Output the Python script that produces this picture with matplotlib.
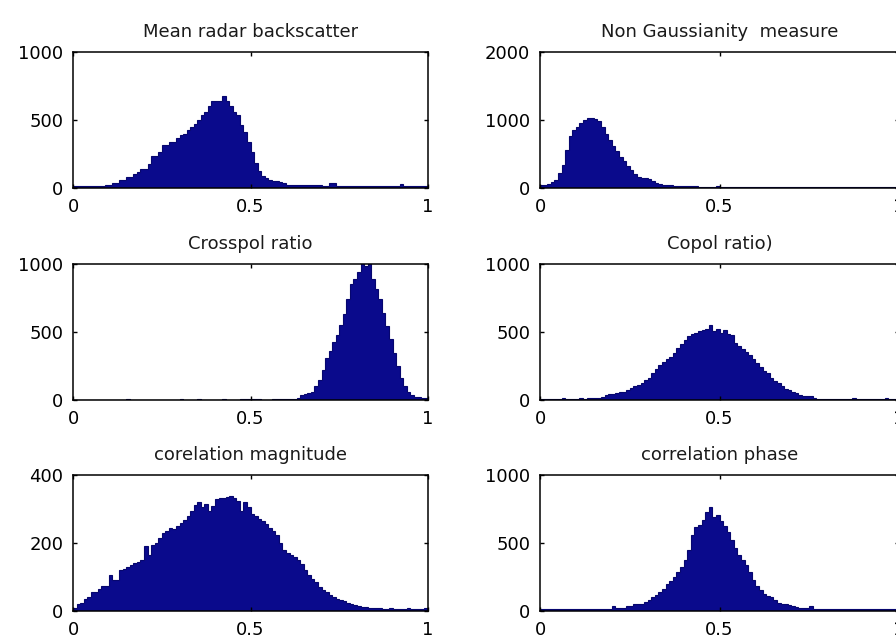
import numpy as np
import matplotlib
matplotlib.use("Agg")
import matplotlib.pyplot as plt

plt.rcParams['font.family'] = ['DejaVu Sans']

# ---- data: 100-bin histogram counts over [0, 1] ----
bin_edges = np.linspace(0, 1, 101)

mean_backscatter = [17, 17, 17, 17, 17, 17, 17, 17, 18, 20,
                    25, 37, 37, 62, 62, 80, 80, 100, 117, 137,
                    137, 175, 237, 237, 267, 317, 315, 337, 340, 367,
                    387, 400, 425, 450, 470, 500, 540, 562, 600, 637,
                    637, 640, 675, 642, 600, 560, 537, 462, 412, 337,
                    262, 187, 125, 90, 75, 62, 55, 50, 42, 37,
                    25, 25, 25, 25, 25, 25, 25, 25, 25, 25,
                    17, 17, 35, 35, 17, 17, 17, 17, 17, 17,
                    17, 17, 17, 17, 17, 17, 17, 17, 17, 17,
                    17, 17, 30, 17, 17, 17, 17, 17, 17, 17]

non_gaussianity = [45, 50, 60, 85, 125, 220, 340, 560, 760, 850,
                   900, 950, 1000, 1025, 1025, 1020, 980, 900, 800, 710,
                   620, 540, 460, 390, 330, 270, 200, 160, 150, 150,
                   130, 100, 80, 60, 48, 42, 38, 34, 32, 30,
                   28, 26, 25, 24, 22, 20, 18, 16, 14, 25,
                   10, 10, 18, 8, 8, 8, 18, 8, 8, 18,
                   8, 8, 8, 15, 8, 8, 8, 8, 8, 8,
                   15, 8, 8, 15, 8, 8, 8, 8, 8, 8,
                   15, 8, 15, 8, 8, 8, 8, 8, 15, 8,
                   8, 8, 8, 8, 8, 8, 8, 8, 8, 8]

crosspol = [0, 0, 0, 0, 0, 0, 0, 0, 0, 0,
            0, 0, 0, 0, 0, 8, 0, 0, 0, 0,
            0, 0, 0, 0, 0, 0, 0, 0, 0, 0,
            8, 0, 0, 0, 0, 8, 0, 0, 0, 0,
            0, 0, 8, 0, 0, 0, 0, 5, 8, 10,
            8, 8, 5, 0, 0, 0, 5, 5, 6, 6,
            8, 8, 10, 15, 37, 45, 55, 62, 100, 150,
            220, 310, 360, 430, 480, 555, 630, 740, 850, 890,
            940, 1005, 985, 1005, 890, 815, 740, 640, 545, 445,
            345, 250, 160, 100, 62, 40, 25, 20, 15, 12]

copol = [10, 8, 6, 10, 10, 10, 12, 10, 10, 10,
         10, 12, 10, 12, 12, 14, 15, 20, 38, 45,
         45, 55, 62, 62, 72, 85, 100, 112, 125, 145,
         165, 195, 225, 255, 280, 300, 318, 345, 380, 410,
         440, 470, 485, 495, 510, 512, 525, 555, 505, 525,
         490, 512, 488, 475, 420, 395, 378, 350, 330, 300,
         275, 240, 212, 200, 165, 140, 125, 100, 82, 70,
         58, 48, 40, 32, 30, 28, 12, 10, 10, 10,
         10, 10, 10, 8, 10, 10, 10, 12, 10, 8,
         10, 10, 6, 10, 10, 10, 12, 10, 8, 10]

corr_magnitude = [10, 20, 25, 35, 40, 55, 55, 65, 75, 75,
                  105, 90, 90, 120, 125, 130, 135, 140, 145, 150,
                  190, 165, 195, 200, 215, 228, 235, 245, 240, 250,
                  258, 268, 280, 295, 312, 322, 305, 315, 295, 310,
                  330, 332, 332, 335, 338, 332, 325, 295, 322, 305,
                  285, 278, 270, 265, 255, 245, 235, 225, 200, 178,
                  170, 165, 158, 150, 138, 120, 105, 95, 85, 70,
                  62, 55, 47, 42, 36, 32, 28, 23, 20, 17,
                  15, 12, 11, 10, 9, 8, 8, 6, 7, 8,
                  6, 5, 7, 6, 8, 6, 5, 7, 6, 8]

corr_phase = [12, 12, 12, 12, 12, 12, 12, 12, 12, 12,
              12, 12, 12, 12, 12, 12, 12, 12, 12, 12,
              38, 25, 25, 25, 38, 38, 50, 50, 55, 68,
              80, 100, 120, 140, 165, 200, 222, 250, 288, 325,
              375, 450, 560, 620, 635, 670, 730, 762, 690, 705,
              665, 625, 580, 525, 465, 415, 375, 335, 290, 230,
              185, 155, 125, 112, 100, 80, 62, 55, 50, 42,
              38, 30, 25, 25, 20, 38, 12, 12, 12, 12,
              12, 12, 12, 12, 12, 12, 12, 12, 12, 12,
              12, 12, 12, 12, 12, 12, 12, 12, 12, 12]

titles = ["Mean radar backscatter", "Non Gaussianity  measure",
          "Crosspol ratio", "Copol ratio)",
          "corelation magnitude", "correlation phase"]
series = [mean_backscatter, non_gaussianity, crosspol, copol,
          corr_magnitude, corr_phase]
ymax = [1000, 2000, 1000, 1000, 400, 1000]
yticks = [[0, 500, 1000], [0, 1000, 2000], [0, 500, 1000], [0, 500, 1000],
          [0, 200, 400], [0, 500, 1000]]
xticks = [0, 0.5, 1]
xticklabels = ["0", "0.5", "1"]

# ---- layout (pixels) ----
W, H = 896, 638
cols = [(73, 355), (540, 359)]
rows = [(52, 188), (264, 400), (475, 611)]

fig = plt.figure(figsize=(W / 100, H / 100), dpi=100)
fig.patch.set_facecolor('white')

navy = '#0A0A8C'
centers = (bin_edges[:-1] + bin_edges[1:]) / 2

for k in range(6):
    r, c = divmod(k, 2)
    x0, w = cols[c]
    top, bot = rows[r]
    ax = fig.add_axes([x0 / W, (H - bot) / H, w / W, (bot - top) / H])
    ax.hist(centers, bins=bin_edges, weights=series[k], histtype='stepfilled',
            facecolor=navy, edgecolor='#06066E', linewidth=0.8)
    ax.set_xlim(0, 1)
    ax.set_ylim(0, ymax[k])
    ax.set_xticks(xticks)
    ax.set_xticklabels(xticklabels)
    ax.set_yticks(yticks[k])
    ax.set_yticklabels([str(v) for v in yticks[k]])
    ax.tick_params(direction='in', length=3, width=1, top=True, right=True,
                   labelsize=13, colors='black')
    ax.tick_params(axis='y', pad=7)
    ax.tick_params(axis='x', pad=7)
    for s in ax.spines.values():
        s.set_linewidth(1.1)
        s.set_color('black')
        s.set_zorder(3)
    ax.set_title(titles[k], fontsize=13, pad=11, color='#1a1a1a')

fig.savefig('out.png', dpi=100, facecolor='white')
